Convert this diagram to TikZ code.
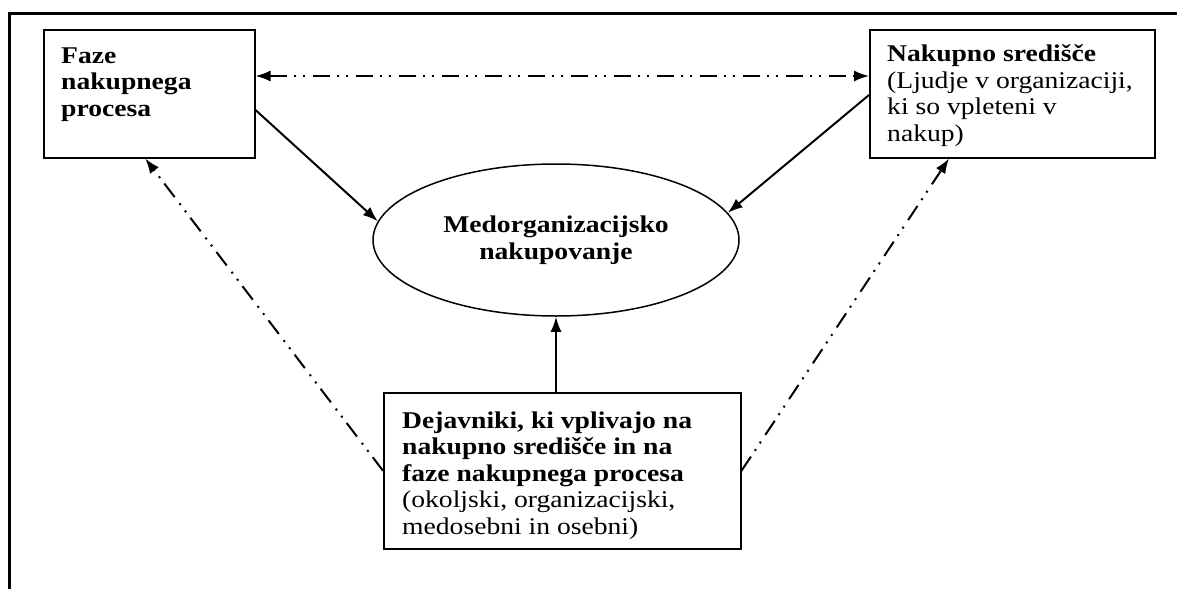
\documentclass[tikz,border=0pt]{standalone}
\usepackage{fontspec}
\setmainfont{Liberation Serif}[FakeStretch=1.15]
\usetikzlibrary{arrows.meta,shapes.geometric}
\begin{document}
\begin{tikzpicture}[x=1pt,y=-1pt,
  box/.style={draw,line width=1.5pt,inner sep=0pt,anchor=north west},
  txt/.style={anchor=base west,align=left,inner sep=0pt,font=\fontsize{24}{26.5}\selectfont},
  solidarrow/.style={line width=2pt,-{Latex[length=15pt,width=11pt]}},
  ddd/.style={line width=2pt,dash pattern=on 17pt off 7pt on 2pt off 7pt on 2pt off 8pt}
]
\useasboundingbox (0,0) rectangle (1177,589);
% frame
\draw[line width=3pt] (9,589) -- (9,13) -- (1177,13);
% boxes
\node[box,minimum width=211pt,minimum height=128pt] (lbox) at (43,29) {};
\node[box,minimum width=285pt,minimum height=128pt] (rbox) at (869,29) {};
\node[box,minimum width=357pt,minimum height=156pt] (bbox) at (383,392) {};
\node[draw,ellipse,line width=1.5pt,minimum width=366pt,minimum height=152pt,inner sep=0pt,
      align=center,font=\fontsize{24}{27}\selectfont] (ell) at (556,240)
      {\textbf{Medorganizacijsko}\\\textbf{nakupovanje}};
% texts (anchored at the baseline of the last line)
\node[txt] (ltxt) at (61,116) {\textbf{Faze}\\\textbf{nakupnega}\\\textbf{procesa}};
\node[txt] (rtxt) at (887,141) {\textbf{Nakupno središče}\\(Ljudje v organizaciji,\\ki so vpleteni v\\nakup)};
\node[txt] (btxt) at (402,534) {\textbf{Dejavniki, ki vplivajo na}\\\textbf{nakupno središče in na}\\\textbf{faze nakupnega procesa}\\(okoljski, organizacijski,\\medosebni in osebni)};
% helper coordinates
\coordinate (ytop) at (0,76);
\coordinate (yl) at (0,110);
\coordinate (yr) at (0,95);
% connectors
\draw[ddd,{Latex[length=15pt,width=11pt]}-{Latex[length=15pt,width=11pt]}] (lbox.east |- ytop) -- (rbox.west |- ytop);
\draw[solidarrow] (lbox.east |- yl) -- (ell.174);
\draw[solidarrow] (rbox.west |- yr) -- (ell.9.5);
\draw[solidarrow] (ell.south |- bbox.north) -- (ell.south);
\draw[ddd,-{Latex[length=15pt,width=11pt]}] (bbox.west) -- ([xshift=-4pt]lbox.south);
\draw[ddd,-{Latex[length=15pt,width=11pt]}] (bbox.east) -- ([xshift=80pt]rbox.south west);
\end{tikzpicture}
\end{document}
